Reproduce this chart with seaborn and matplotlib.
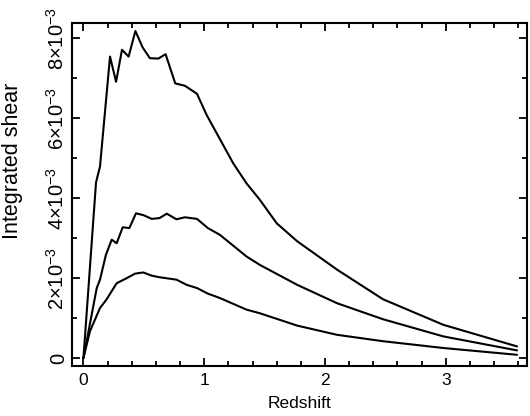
import numpy as np
import pandas as pd
import matplotlib
matplotlib.use("Agg")
import matplotlib.pyplot as plt
import seaborn as sns
from matplotlib.ticker import MultipleLocator

# redshift / integrated shear (shear in units of 1e-3)
z_top = [0.0, 0.104, 0.137, 0.22, 0.27, 0.319, 0.374, 0.43, 0.49, 0.55, 0.62, 0.68, 0.76, 0.84, 0.94,
         1.02, 1.24, 1.35, 1.46, 1.60, 1.77, 2.10, 2.48, 2.98, 3.59]
s_top = [0.0, 4.39, 4.79, 7.54, 6.91, 7.71, 7.54, 8.18, 7.77, 7.50, 7.49, 7.60, 6.87, 6.81, 6.61,
         6.08, 4.87, 4.37, 3.96, 3.37, 2.92, 2.21, 1.47, 0.83, 0.29]

z_mid = [0.0, 0.11, 0.137, 0.186, 0.234, 0.275, 0.325, 0.38, 0.435, 0.50, 0.565, 0.63, 0.69, 0.77, 0.84,
         0.94, 1.03, 1.13, 1.35, 1.46, 1.77, 2.10, 2.48, 2.98, 3.59]
s_mid = [0.0, 1.75, 1.96, 2.58, 2.96, 2.87, 3.27, 3.25, 3.62, 3.57, 3.48, 3.50, 3.61, 3.47, 3.52,
         3.48, 3.25, 3.08, 2.54, 2.33, 1.83, 1.37, 0.97, 0.54, 0.19]

z_low = [0.0, 0.054, 0.137, 0.19, 0.275, 0.36, 0.427, 0.495, 0.565, 0.63, 0.77, 0.855, 0.94, 1.03,
         1.13, 1.35, 1.46, 1.77, 2.10, 2.48, 2.98, 3.59]
s_low = [0.0, 0.67, 1.25, 1.46, 1.87, 2.00, 2.11, 2.14, 2.06, 2.02, 1.96, 1.83, 1.75, 1.61,
         1.50, 1.21, 1.12, 0.81, 0.58, 0.42, 0.25, 0.08]

yticks = [0, 2e-3, 4e-3, 6e-3, 8e-3]
ytick_labels = ["0", r"2$\times$10$^{-3}$", r"4$\times$10$^{-3}$", r"6$\times$10$^{-3}$", r"8$\times$10$^{-3}$"]

frames = []
for name, z, s in [("top", z_top, s_top), ("mid", z_mid, s_mid), ("low", z_low, s_low)]:
    frames.append(pd.DataFrame({"z": z, "shear": np.array(s) * 1e-3, "curve": name}))
df = pd.concat(frames, ignore_index=True)

sns.set_style("ticks")
plt.rcParams["font.family"] = ["Liberation Sans", "DejaVu Sans"]
plt.rcParams["mathtext.fontset"] = "custom"
plt.rcParams["mathtext.rm"] = "Liberation Sans"
plt.rcParams["text.color"] = "black"
plt.rcParams["axes.labelcolor"] = "black"

fig = plt.figure(figsize=(5.30, 4.16), dpi=100)
ax = fig.add_axes([0.1358, 0.1202, 0.858, 0.824])

sns.lineplot(data=df, x="z", y="shear", units="curve", estimator=None, sort=False,
             color="black", linewidth=1.5, ax=ax, legend=False)

ax.set_xlim(-0.095, 3.67)
ax.set_ylim(-0.2e-3, 8.375e-3)
ax.xaxis.set_major_locator(MultipleLocator(1))
ax.xaxis.set_minor_locator(MultipleLocator(0.2))
ax.set_yticks(yticks)
ax.set_yticklabels(ytick_labels, rotation=90, va="center", fontsize=14.5)
ax.yaxis.set_minor_locator(MultipleLocator(1e-3))
ax.tick_params(which="both", direction="in", top=True, right=True, width=1.3, colors="black")
ax.tick_params(axis="x", labelsize=12.5, pad=5)
ax.tick_params(axis="y", pad=3)
ax.tick_params(which="major", length=6)
ax.tick_params(which="minor", length=3.5)
for sp in ax.spines.values():
    sp.set_linewidth(1.5)
    sp.set_color("black")

ax.set_xlabel("Redshift", fontsize=12.5, labelpad=6, color="black")
ax.set_ylabel("Integrated shear", fontsize=15.5, color="black")
# label sits above the axis centre in the original
ax.yaxis.set_label_coords(-0.108, 0.60)

fig.savefig("out.png", dpi=100)
